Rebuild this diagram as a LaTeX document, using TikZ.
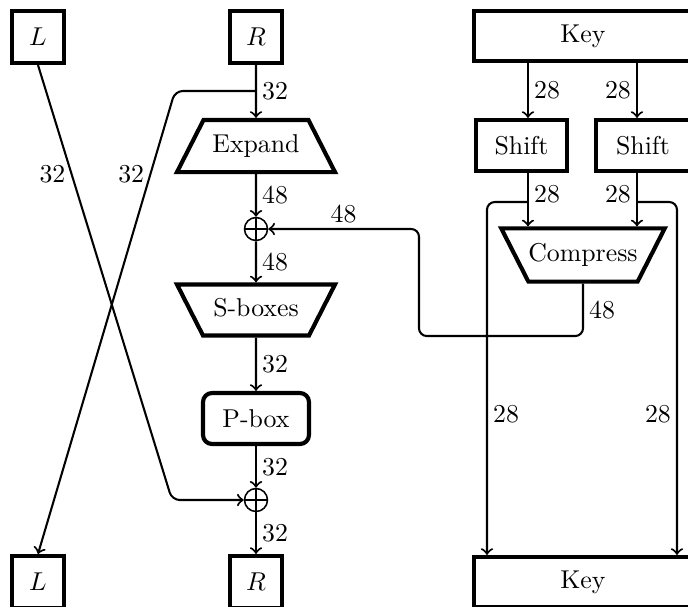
\documentclass[tikz,border=0pt]{standalone}
\usepackage{tikz}
\usetikzlibrary{shapes.geometric,calc}
\newcommand\Unit{0.3876pt}
\tikzset{
  half/.style={
    shape = rectangle,
    draw,
    ultra thick,
    inner sep = 0pt,
    minimum width = 52*\Unit,
    minimum height = 52*\Unit
  },
}
\tikzset{
  keybox/.style={
    shape = rectangle,
    draw,
    ultra thick,
    inner sep = 0pt,
    minimum width = 218*\Unit,
    minimum height = 50*\Unit
  },
  shiftbox/.style={
    shape = rectangle,
    draw,
    ultra thick,
    inner sep = 0pt,
    minimum width = 91*\Unit,
    minimum height = 51*\Unit
  },
  roundbox/.style={
    shape = rectangle,
    draw,
    ultra thick,
    rounded corners = 3.5pt,
    inner sep = 0pt,
    minimum width = 106*\Unit,
    minimum height = 51*\Unit
  },
  widen/.style={
    shape = trapezium,
    draw,
    ultra thick,
    trapezium left angle = 63,
    trapezium right angle = 63,
    trapezium stretches body,
    text height = 7pt,
    text depth = 2pt,
    inner xsep = 0pt,
    inner ysep = 5.6pt,
    minimum width = 158*\Unit
  },
  narrow/.style={
    shape = trapezium,
    draw,
    ultra thick,
    trapezium left angle = 117,
    trapezium right angle = 117,
    trapezium stretches body,
    text height = 7pt,
    text depth = 2pt,
    inner xsep = 0pt,
    inner ysep = 5.4pt,
    minimum width = 158*\Unit
  },
  xor/.style={
    shape = circle,
    draw,
    semithick,
    inner sep = 0pt,
    minimum size = 23*\Unit,
    path picture={
      \draw[semithick] (path picture bounding box.north) -- (path picture bounding box.south)
        (path picture bounding box.west) -- (path picture bounding box.east);
    }
  },
  wire/.style={
    thick,
    ->
  },
  bits/.style={
    inner sep = 2pt
  }
}

\begin{document}
\begin{tikzpicture}[x=\Unit, y=-\Unit]
  \path[use as bounding box, clip] (0,0) rectangle (688,607);

  % feistel round
  \node[half] (Lin) at (38,37) {$L$};
  \node[half] (Rin) at (256,37) {$R$};
  \node[widen] (expand) at (256,146) {Expand};
  \node[xor] (xorA) at (256,229) {};
  \node[narrow] (sbox) at (256,310) {S-boxes};
  \node[roundbox] (perm) at (256,418.5) {P-box};
  \node[xor] (xorB) at (256,500) {};
  \node[half] (Lout) at (38,582) {$L$};
  \node[half] (Rout) at (256,582) {$R$};

  % key schedule
  \node[keybox] (keyin) at (583,36) {Key};
  \node[shiftbox] (shiftA) at (521.5,145.5) {Shift};
  \node[shiftbox, minimum width = 94*\Unit] (shiftB) at (643,145.5) {Shift};
  \node[narrow, minimum width = 162*\Unit, inner ysep = 5.8pt] (compress) at (583,255) {Compress};
  \node[keybox] (keyout) at (583,582) {Key};

  \coordinate (rfork) at (256,91);
  \coordinate (rbend) at (175,91);
  \coordinate (lbend) at (172,500);
  \coordinate (kl) at (528,202);
  \coordinate (kr) at (637,202);
  \coordinate (kll) at (487,202);
  \coordinate (krr) at (677,202);
  \coordinate (cbend) at (419,336);

  \draw[wire] (Rin) -- node[bits, right] {32} (expand);
  \draw[wire] (expand) -- node[bits, right] {48} (xorA);
  \draw[wire] (xorA) -- node[bits, right] {48} (sbox);
  \draw[wire] (sbox) -- node[bits, right] {32} (perm);
  \draw[wire] (perm) -- node[bits, right] {32} (xorB);
  \draw[wire] (xorB) -- node[bits, right] {32} (Rout);

  \draw[wire, rounded corners=3pt] (rfork) -- (rbend) -- node[bits, left, pos=0.18] {32} (Lout.north);
  \draw[wire, rounded corners=3pt] (Lin.south) -- node[bits, left, pos=0.25] {32} (lbend) -- (xorB.west);

  \draw[wire] (keyin.south -| kl) -- node[bits, right] {28} (shiftA.north -| kl);
  \draw[wire] (keyin.south -| kr) -- node[bits, left] {28} (shiftB.north -| kr);
  \draw[wire] (shiftA.south -| kl) -- node[bits, right, pos=0.4] {28} (compress.north -| kl);
  \draw[wire] (shiftB.south -| kr) -- node[bits, left, pos=0.4] {28} (compress.north -| kr);

  \draw[wire, rounded corners=3pt] (kl) -| node[bits, right, pos=0.8] {28} (keyout.north -| kll);
  \draw[wire, rounded corners=3pt] (kr) -| node[bits, left, pos=0.8] {28} (keyout.north -| krr);

  \draw[wire, rounded corners=3pt] (compress.south) |- node[bits, right, pos=0.25] {48} (cbend) |- node[bits, above, pos=0.75] {48} (xorA.east);
\end{tikzpicture}
\end{document}
